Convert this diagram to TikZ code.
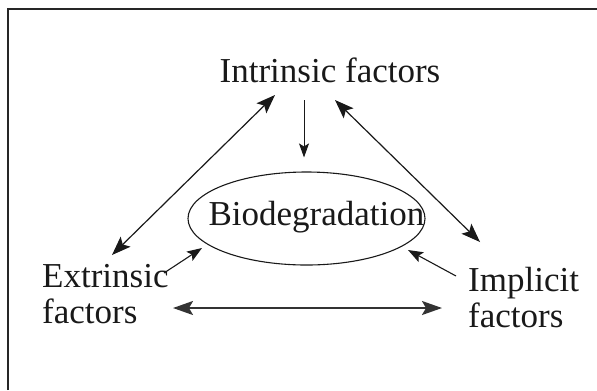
\documentclass[tikz,border=0pt]{standalone}
\usepackage{fontspec}
\setmainfont{Liberation Serif}
\usetikzlibrary{arrows.meta,shapes.geometric}
\tikzset{
  lbl/.style={inner sep=0pt, font=\fontsize{35bp}{36bp}\selectfont, text=black!90},
  dbl/.style={{Stealth[length=19bp,width=14bp,inset=4bp]}-{Stealth[length=19bp,width=14bp,inset=4bp]}, line width=1.2bp, draw=black!90},
  hdbl/.style={{Stealth[length=20bp,width=14bp,inset=4bp]}-{Stealth[length=20bp,width=14bp,inset=4bp]}, line width=2bp, draw=black!80},
  small/.style={-{Stealth[length=15bp,width=11bp,inset=3bp]}, line width=1.1bp, draw=black!90},
  down/.style={-{Stealth[length=14bp,width=10bp,inset=3bp]}, line width=1bp, draw=black!90},
  oval/.style={ellipse, draw=black!90, line width=1.1bp, inner sep=0pt, minimum width=237bp, minimum height=93bp},
  frame/.style={draw=black!85, line width=1.3bp}
}
\begin{document}
\begin{tikzpicture}[x=1bp,y=-1bp]
\useasboundingbox (0,0) rectangle (597,390);
\draw[frame] (8,390) -- (8,9) -- (597,9);
\node[lbl, anchor=base] (intr) at (330,82) {Intrinsic factors};
\node[oval] (bio) at (306.5,218.5) {};
\node[lbl, anchor=base] (biot) at (316.5,225) {Biodegradation};
\node[lbl, anchor=base west, align=left] (extr) at (42,323) {Extrinsic\\factors};
\node[lbl, anchor=base west, align=left] (impl) at (468,327) {Implicit\\factors};
\draw[down] ([shift={(-26,18)}]intr.base) -- ([shift={(-2.5,-14)}]bio.north);
\draw[dbl] ([shift={(-55,13)}]intr.base) -- ([shift={(70,-68)}]extr.base west);
\draw[dbl] ([shift={(5,18)}]intr.base) -- ([shift={(12,-85)}]impl.base west);
\draw[hdbl] ([shift={(131,-15)}]extr.base west) -- ([shift={(-26,-19)}]impl.base west);
\draw[small] ([shift={(122,-50)}]extr.base west) -- ([shift={(-104.5,29.5)}]bio.center);
\draw[small] ([shift={(-12,-51)}]impl.base west) -- ([shift={(101.5,31.5)}]bio.center);
\end{tikzpicture}
\end{document}
